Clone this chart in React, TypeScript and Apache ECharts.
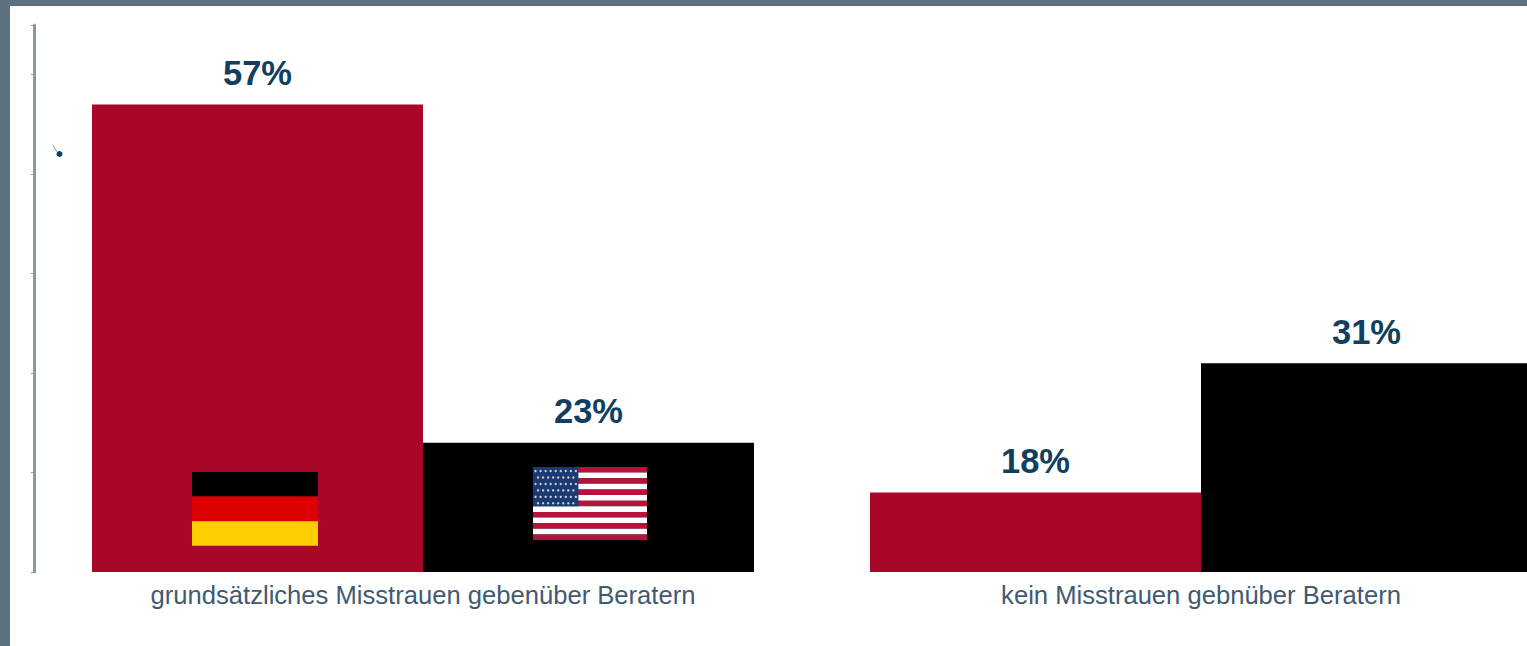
import React, { useEffect, useRef } from "react";
import * as echarts from "echarts";

const categories = [
  "grundsätzliches Misstrauen gebenüber Beratern",
  "kein Misstrauen gebnüber Beratern",
];
const germanyValues = [57, 18];
const usaValues = [23, 31];
const axisMin = 10;
const axisMax = 65;
const axisStep = 10;

const FONT = '"Liberation Sans", Arial, sans-serif';
const FRAME = "#5c7282";

// Black-red-gold tricolour placed on the first bar.
function germanFlag() {
  const x = 192, y = 472, w = 126, h = 24.6;
  return ["#000000", "#dd0000", "#ffce00"].map((fill, i) => ({
    type: "rect",
    silent: true,
    z: 10,
    shape: { x, y: y + i * h, width: w, height: h },
    style: { fill },
  }));
}

// Thirteen stripes, a blue canton and rows of small stars as dots.
function usFlag() {
  const x = 533, y = 467, w = 114, h = 73;
  const stripe = h / 13;
  const out: any[] = [];
  for (let i = 0; i < 13; i++) {
    out.push({
      type: "rect",
      silent: true,
      z: 10,
      shape: { x, y: y + i * stripe, width: w, height: stripe },
      style: { fill: i % 2 === 0 ? "#b9123a" : "#ffffff" },
    });
  }
  const cantonW = 45.4, cantonH = stripe * 7;
  out.push({
    type: "rect",
    silent: true,
    z: 11,
    shape: { x, y, width: cantonW, height: cantonH },
    style: { fill: "#1c3a72" },
  });
  for (let row = 0; row < 6; row++) {
    const count = row % 2 === 0 ? 9 : 8;
    const gap = cantonW / 9;
    const start = x + (row % 2 === 0 ? gap / 2 : gap);
    for (let col = 0; col < count; col++) {
      out.push({
        type: "circle",
        silent: true,
        z: 12,
        shape: { cx: start + col * gap, cy: y + 4 + row * (cantonH - 7) / 5, r: 1.2 },
        style: { fill: "#c6cfe0" },
      });
    }
  }
  return out;
}

export default function App() {
  const ref = useRef<HTMLDivElement>(null);

  useEffect(() => {
    document.body.style.margin = "0";
    const chart = echarts.init(ref.current!, undefined, { renderer: "svg" });
    const valueLabel = {
      show: true,
      position: "top" as const,
      distance: 14,
      formatter: "{c}%",
      fontFamily: FONT,
      fontSize: 34.5,
      fontWeight: "bold" as const,
      color: "#123f5f",
    };
    chart.setOption({
      animation: false,
      backgroundColor: "#ffffff",
      grid: { left: 34, top: 25, width: 1556, height: 547, outerBoundsMode: "none" },
      xAxis: {
        type: "category",
        data: categories,
        axisLine: { show: false },
        axisTick: { show: false },
        axisLabel: {
          interval: 0,
          margin: 10,
          fontFamily: FONT,
          fontSize: 25.6,
          color: "#3f5a72",
        },
      },
      yAxis: {
        type: "value",
        min: axisMin,
        max: axisMax,
        interval: axisStep,
        axisLine: { show: true, lineStyle: { color: "#8c98a7", width: 3 } },
        axisTick: { show: true, length: 3, lineStyle: { color: "#8c98a7", width: 1 } },
        axisLabel: { show: false },
        splitLine: { show: false },
      },
      series: [
        {
          name: "Deutschland",
          type: "bar",
          data: germanyValues,
          barWidth: 331,
          barGap: 0,
          itemStyle: { color: "#a90729" },
          label: valueLabel,
        },
        {
          name: "USA",
          type: "bar",
          data: usaValues,
          barWidth: 331,
          itemStyle: { color: "#000000" },
          label: valueLabel,
        },
      ],
      graphic: [
        // Window frame along the top and left edges.
        { type: "rect", silent: true, z: 20, shape: { x: 0, y: 0, width: 1527, height: 6 }, style: { fill: FRAME } },
        { type: "rect", silent: true, z: 20, shape: { x: 0, y: 0, width: 10, height: 646 }, style: { fill: FRAME } },
        // Stray marker beside the axis.
        { type: "line", silent: true, z: 5, shape: { x1: 53, y1: 145, x2: 57, y2: 152 }, style: { stroke: "#8c98a7", lineWidth: 1 } },
        { type: "circle", silent: true, z: 6, shape: { cx: 59.5, cy: 154, r: 3 }, style: { fill: "#0c3f66" } },
        ...germanFlag(),
        ...usFlag(),
      ],
    });
    return () => chart.dispose();
  }, []);

  return <div ref={ref} style={{ width: 1527, height: 646, overflow: "hidden" }} />;
}
